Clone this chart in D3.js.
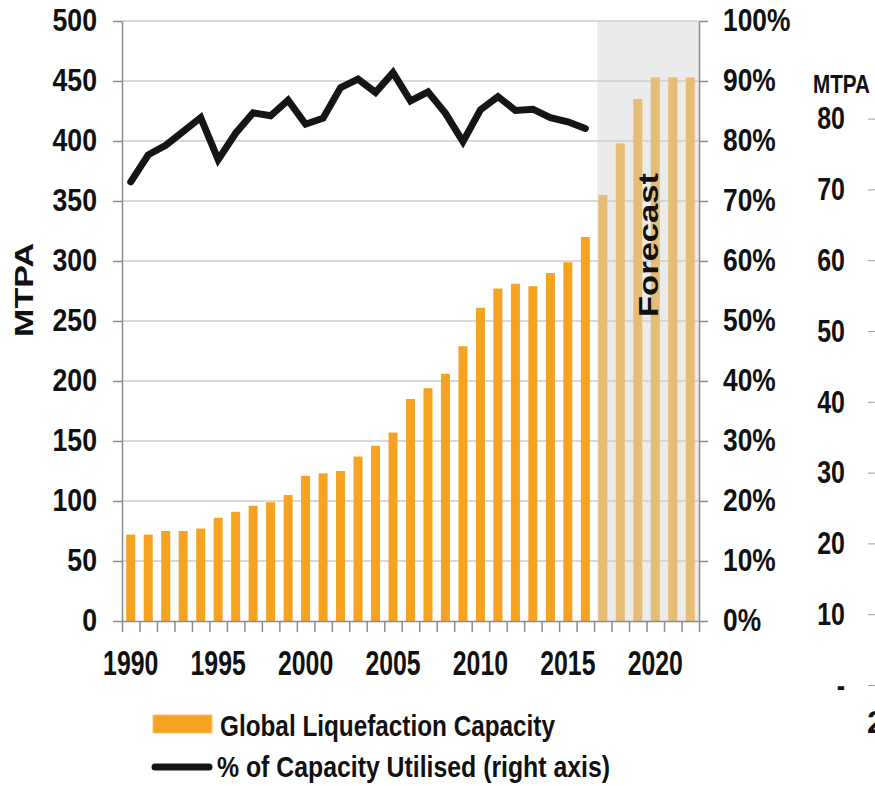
<!DOCTYPE html>
<html>
<head>
<meta charset="utf-8">
<script src="https://cdn.jsdelivr.net/npm/d3@7"></script>
<style>
  body { margin: 0; background: #fff; }
  svg { font-family: "Liberation Sans", Arial, sans-serif; font-weight: bold; }
</style>
</head>
<body>
<script>
// chart values
const years = [1990, 1991, 1992, 1993, 1994, 1995, 1996, 1997, 1998, 1999,
               2000, 2001, 2002, 2003, 2004, 2005, 2006, 2007, 2008, 2009,
               2010, 2011, 2012, 2013, 2014, 2015, 2016, 2017, 2018, 2019,
               2020, 2021, 2022];
const capacity = [72, 72, 75, 75, 77, 86, 91, 96, 99, 105,
                  121, 123, 125, 137, 146, 157, 185, 194, 206, 229,
                  261, 277, 281, 279, 290, 299, 320, 355, 398, 435,
                  453, 453, 453];
// % of capacity utilised, 1990-2016
const utilised = [73.2, 77.7, 79.3, 81.6, 83.9, 76.9, 81.3, 84.7, 84.2, 86.8,
                  82.8, 83.8, 88.9, 90.3, 88.1, 91.4, 86.7, 88.2, 84.6, 79.9,
                  85.2, 87.4, 85.1, 85.3, 83.9, 83.2, 82.1];
const firstForecastYear = 2017;
const leftTicks = [0, 50, 100, 150, 200, 250, 300, 350, 400, 450, 500];
const rightTicks = [0, 10, 20, 30, 40, 50, 60, 70, 80, 90, 100];
const yearLabels = [1990, 1995, 2000, 2005, 2010, 2015, 2020];
const sideTicks = [0, 10, 20, 30, 40, 50, 60, 70, 80];

const plot = {left: 122, right: 699, top: 21, bottom: 621};
const axisGrey = "#8c8c8c";

const svg = d3.select("body").append("svg")
    .attr("width", 875)
    .attr("height", 786);

const x = d3.scaleBand()
    .domain(years)
    .range([plot.left, plot.right])
    .paddingInner(0.485)
    .paddingOuter(0.2425);
const y = d3.scaleLinear().domain([0, 500]).range([plot.bottom, plot.top]);
const yPct = d3.scaleLinear().domain([0, 100]).range([plot.bottom, plot.top]);

// squeeze axis text horizontally (the source fonts are narrow)
function condense(g, sx) {
  g.selectAll("text").each(function() {
    const t = d3.select(this);
    t.attr("x", (+t.attr("x")) / sx).attr("transform", "scale(" + sx + ",1)");
  });
}

function styleAxis(g, size) {
  g.selectAll(".domain, .tick line").attr("stroke", axisGrey).attr("stroke-width", 1.5);
  g.selectAll("text").attr("fill", "#111").style("font-size", size + "px");
}

// forecast shading
svg.append("rect")
    .attr("x", x(firstForecastYear) - 1)
    .attr("y", plot.top)
    .attr("width", plot.right - x(firstForecastYear) + 1)
    .attr("height", plot.bottom - plot.top)
    .attr("fill", "#ebebeb");

// gridlines
svg.append("g")
  .selectAll("line")
  .data(leftTicks.slice(1))
  .enter()
  .append("line")
    .attr("x1", plot.left)
    .attr("x2", plot.right)
    .attr("y1", d => y(d))
    .attr("y2", d => y(d))
    .attr("stroke", "#cdcdcd")
    .attr("stroke-width", 1.5);

// bars
svg.append("g")
  .selectAll("rect")
  .data(years)
  .enter()
  .append("rect")
    .attr("x", d => x(d))
    .attr("y", (d, i) => y(capacity[i]))
    .attr("width", x.bandwidth())
    .attr("height", (d, i) => y(0) - y(capacity[i]))
    .attr("fill", d => d < firstForecastYear ? "#f5a321" : "#e7bc74");

// utilisation line
const line = d3.line()
    .x((d, i) => x(years[i]) + x.bandwidth() / 2)
    .y(d => yPct(d));
svg.append("path")
    .datum(utilised)
    .attr("d", line)
    .attr("fill", "none")
    .attr("stroke", "#151515")
    .attr("stroke-width", 7)
    .attr("stroke-linejoin", "miter")
    .attr("stroke-linecap", "round");

// left axis
const leftAxis = svg.append("g")
    .attr("transform", "translate(" + plot.left + ",0)")
    .call(d3.axisLeft(y).tickValues(leftTicks).tickSize(9).tickSizeOuter(0).tickPadding(16));
styleAxis(leftAxis, 31);
condense(leftAxis, 0.86);

// right axis
const rightAxis = svg.append("g")
    .attr("transform", "translate(" + plot.right + ",0)")
    .call(d3.axisRight(yPct).tickValues(rightTicks).tickSize(9).tickSizeOuter(0).tickPadding(15)
      .tickFormat(d => d + "%"));
styleAxis(rightAxis, 31);
condense(rightAxis, 0.85);

// bottom axis: ticks between the years
const xEdge = d3.scaleLinear().domain([1989.5, 2022.5]).range([plot.left, plot.right]);
const bottomAxis = svg.append("g")
    .attr("transform", "translate(0," + plot.bottom + ")")
    .call(d3.axisBottom(xEdge)
      .tickValues(years.map(d => d - 0.5).concat([2022.5]))
      .tickSize(11).tickSizeOuter(0).tickFormat(""));
styleAxis(bottomAxis, 35);

const yearAxis = svg.append("g")
    .attr("transform", "translate(0," + plot.bottom + ")")
    .call(d3.axisBottom(x).tickValues(yearLabels).tickSize(0).tickPadding(29));
yearAxis.select(".domain").remove();
styleAxis(yearAxis, 35);
condense(yearAxis, 0.71);

// axis titles
svg.append("text")
    .attr("transform", "translate(33,290) rotate(-90)")
    .attr("text-anchor", "middle")
    .attr("textLength", 94)
    .attr("lengthAdjust", "spacingAndGlyphs")
    .style("font-size", "25px")
    .attr("fill", "#111")
    .text("MTPA");

svg.append("text")
    .attr("transform", "translate(658,245) rotate(-90)")
    .attr("text-anchor", "middle")
    .attr("textLength", 144)
    .attr("lengthAdjust", "spacingAndGlyphs")
    .style("font-size", "28px")
    .attr("fill", "#111")
    .text("Forecast");

// neighbouring chart, cut off at the right edge
const ySide = d3.scaleLinear().domain([0, 80]).range([685, 118.6]);
const sideAxis = svg.append("g")
    .attr("transform", "translate(877,0)")
    .call(d3.axisLeft(ySide).tickValues(sideTicks).tickSize(9).tickSizeOuter(0).tickPadding(23)
      .tickFormat(d => d === 0 ? "-" : d));
styleAxis(sideAxis, 32);
sideAxis.select(".domain").attr("stroke", "#c8c8c8");
sideAxis.selectAll(".tick line").attr("stroke", "#a0a0a0").attr("stroke-width", 1);
condense(sideAxis, 0.78);

svg.append("text")
    .attr("x", 813)
    .attr("y", 93)
    .attr("textLength", 57)
    .attr("lengthAdjust", "spacingAndGlyphs")
    .style("font-size", "26px")
    .attr("fill", "#111")
    .text("MTPA");

svg.append("text")
    .attr("x", 867)
    .attr("y", 733)
    .style("font-size", "32px")
    .attr("fill", "#111")
    .text("2");

// legend
const legend = svg.append("g");
legend.append("rect")
    .attr("x", 153).attr("y", 715)
    .attr("width", 59).attr("height", 18)
    .attr("fill", "#f5a321")
    .attr("stroke", "#f8c070")
    .attr("stroke-width", 1);
legend.append("text")
    .attr("x", 220).attr("y", 736)
    .attr("textLength", 335)
    .attr("lengthAdjust", "spacingAndGlyphs")
    .style("font-size", "30px")
    .attr("fill", "#111")
    .text("Global Liquefaction Capacity");

legend.append("line")
    .attr("x1", 155).attr("x2", 209)
    .attr("y1", 767).attr("y2", 767)
    .attr("stroke", "#151515")
    .attr("stroke-width", 7)
    .attr("stroke-linecap", "round");
legend.append("text")
    .attr("x", 217).attr("y", 777)
    .attr("textLength", 393)
    .attr("lengthAdjust", "spacingAndGlyphs")
    .style("font-size", "30px")
    .attr("fill", "#111")
    .text("% of Capacity Utilised (right axis)");
</script>
</body>
</html>
